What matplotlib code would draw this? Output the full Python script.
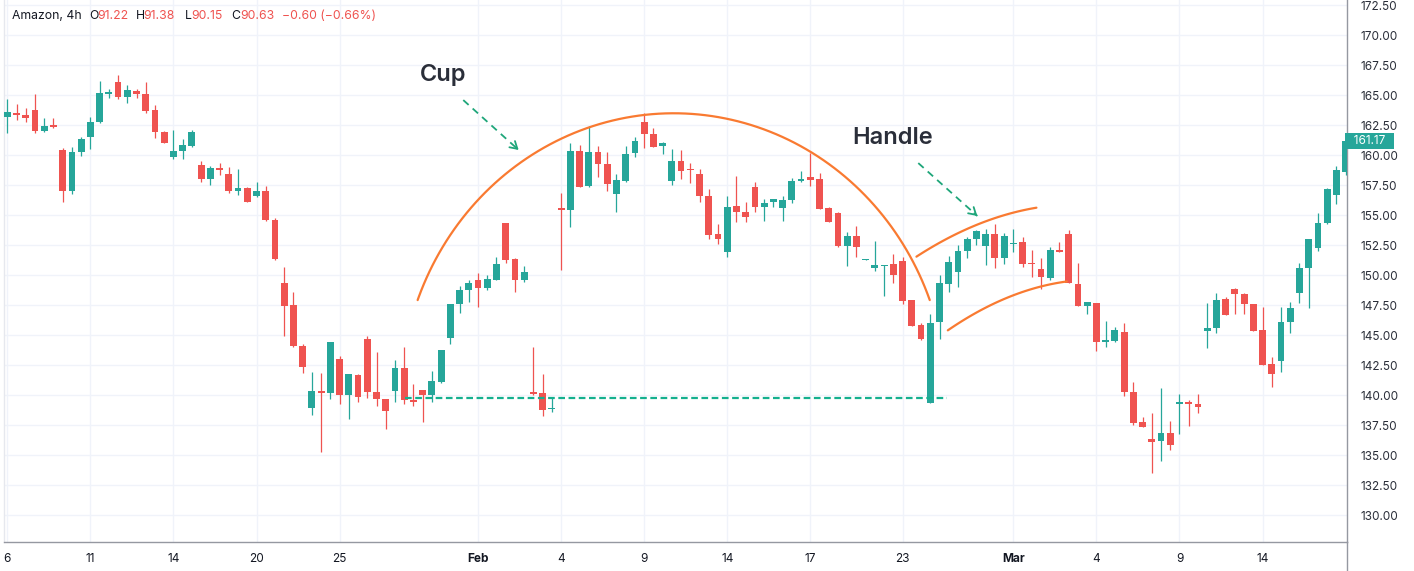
import matplotlib
matplotlib.use('Agg')
import matplotlib.pyplot as plt
import numpy as np
from matplotlib.transforms import blended_transform_factory
from matplotlib.lines import Line2D

# ---------------- data (4h candles) ----------------
opens = [163.2, 163.53, 163.33, 163.75, 162.03, 162.47, 160.42, 157.0, 160.28, 161.53,
         162.72, 165.11, 166.08, 164.83, 165.36, 165.08, 163.75, 161.94, 159.83, 160.33,
         160.78, 159.17, 158.0, 158.94, 158.42, 157.03, 157.22, 156.61, 157.03, 154.58,
         149.36, 147.47, 144.08, 138.94, 140.28, 140.19, 142.97, 140.03, 141.67, 144.64,
         140.25, 139.64, 140.33, 142.22, 139.58, 140.42, 139.97, 141.11, 144.78, 147.58,
         148.75, 149.56, 148.89, 149.58, 154.31, 151.31, 149.61, 140.25, 140.14, 138.8,
         155.61, 155.42, 160.33, 157.42, 160.28, 159.22, 156.72, 157.86, 160.14, 162.78,
         161.72, 160.75, 157.83, 159.5, 158.8, 158.42, 156.58, 153.39, 151.92, 155.75,
         155.28, 157.36, 155.69, 156.06, 155.61, 156.28, 157.86, 158.14, 157.97, 155.56,
         155.14, 152.44, 153.25, 151.25, 150.56, 150.75, 150.89, 151.19, 147.92, 145.83,
         139.36, 146.06, 149.22, 150.22, 152.0, 153.03, 152.42, 153.42, 151.39, 152.56,
         152.72, 150.97, 150.47, 149.78, 152.08, 153.42, 149.25, 147.44, 147.64, 144.39,
         144.53, 145.28, 140.22, 137.72, 136.33, 136.17, 136.86, 139.25, 139.39, 139.22,
         145.36, 145.56, 147.97, 148.81, 148.42, 147.58, 145.42, 142.56, 142.83, 146.11,
         148.53, 150.61, 152.22, 154.31, 156.67, 158.61]
highs = [164.67, 164.25, 163.89, 165.06, 163.06, 163.06, 160.56, 160.64, 161.47, 163.14,
         166.17, 165.5, 166.67, 165.83, 165.47, 166.06, 164.17, 162.03, 162.08, 161.36,
         162.06, 159.47, 159.08, 159.31, 158.97, 158.81, 157.31, 157.78, 157.39, 154.78,
         150.67, 148.58, 144.22, 141.9, 141.86, 144.44, 143.25, 141.75, 141.72, 144.92,
         143.58, 139.64, 142.92, 144.0, 140.94, 140.42, 142.0, 143.75, 147.61, 149.11,
         149.58, 150.17, 150.0, 151.53, 154.31, 151.39, 150.75, 144.03, 141.75, 139.86,
         156.81, 160.97, 160.83, 162.42, 160.75, 160.22, 158.44, 160.75, 161.47, 163.53,
         162.28, 161.11, 160.47, 160.42, 159.36, 158.8, 157.14, 154.22, 156.58, 158.28,
         156.11, 157.78, 156.31, 156.36, 156.58, 158.06, 158.69, 160.14, 158.47, 155.64,
         155.22, 153.56, 154.08, 151.31, 152.83, 150.83, 151.72, 151.53, 147.92, 145.97,
         146.75, 150.0, 151.58, 152.5, 153.19, 153.75, 153.81, 154.22, 153.53, 153.81,
         153.19, 152.08, 151.39, 152.36, 152.78, 153.75, 150.97, 147.72, 147.64, 146.17,
         145.69, 145.97, 141.11, 138.19, 138.47, 140.56, 137.86, 140.06, 139.58, 140.06,
         147.64, 148.47, 148.19, 148.89, 148.47, 147.58, 147.3, 143.14, 147.36, 147.78,
         150.97, 152.97, 155.14, 157.22, 159.08, 161.6]
lows = [161.8, 162.92, 162.78, 161.86, 161.89, 162.22, 156.11, 156.72, 159.92, 160.53,
        162.64, 164.78, 164.67, 164.31, 164.72, 163.47, 161.39, 160.97, 159.69, 159.69,
        160.67, 157.78, 157.5, 158.33, 156.81, 156.67, 156.06, 156.53, 154.5, 151.22,
        144.92, 144.03, 141.86, 138.32, 135.22, 139.64, 139.22, 138.03, 139.42, 139.78,
        139.11, 137.14, 139.42, 139.22, 139.11, 137.72, 139.39, 141.03, 144.22, 146.8,
        147.78, 147.31, 148.75, 149.58, 150.97, 148.58, 149.39, 140.0, 138.25, 138.56,
        150.42, 153.97, 157.36, 157.31, 158.14, 157.03, 155.28, 157.78, 159.86, 160.61,
        160.69, 160.08, 157.5, 158.0, 157.69, 156.06, 153.0, 152.56, 151.47, 154.39,
        154.39, 155.28, 154.53, 155.69, 154.53, 155.97, 157.78, 157.44, 155.5, 154.44,
        152.36, 150.78, 151.53, 151.25, 150.3, 148.28, 149.36, 147.58, 145.78, 144.58,
        139.36, 144.64, 148.61, 148.97, 151.44, 152.5, 150.83, 150.61, 150.89, 151.94,
        150.64, 149.81, 148.81, 149.58, 151.89, 149.36, 147.44, 146.75, 143.69, 144.03,
        144.44, 139.94, 137.5, 137.31, 133.47, 134.53, 135.42, 136.75, 137.42, 138.47,
        143.89, 145.14, 146.67, 146.75, 146.75, 145.33, 142.5, 140.69, 141.94, 145.14,
        147.69, 147.22, 152.03, 154.22, 155.89, 158.3]
closes = [163.55, 163.36, 163.06, 162.03, 162.45, 162.36, 157.0, 160.22, 161.31, 162.78,
          165.14, 165.25, 164.81, 165.42, 165.06, 163.69, 161.92, 161.03, 160.36, 160.83,
          161.94, 158.0, 158.92, 158.78, 157.0, 157.22, 156.11, 157.03, 154.56, 151.31,
          147.44, 144.06, 142.36, 140.3, 140.19, 144.39, 139.97, 141.75, 139.81, 140.22,
          139.64, 138.69, 142.22, 139.58, 139.44, 139.97, 141.17, 143.75, 147.61, 148.75,
          149.36, 148.92, 149.64, 150.92, 151.25, 149.61, 150.25, 140.11, 138.75, 138.9,
          155.44, 160.33, 157.36, 160.28, 159.22, 157.58, 157.94, 160.06, 161.19, 161.72,
          160.69, 161.0, 159.5, 158.67, 158.72, 156.56, 153.36, 153.0, 155.69, 155.28,
          154.81, 155.64, 156.03, 156.31, 156.28, 157.83, 158.0, 157.94, 155.5, 154.44,
          152.42, 153.28, 152.36, 151.31, 150.8, 150.83, 150.0, 147.86, 145.78, 144.64,
          146.03, 149.31, 151.06, 152.03, 153.0, 153.67, 153.39, 151.39, 153.25, 152.69,
          150.92, 150.89, 149.86, 152.08, 151.89, 149.36, 147.44, 147.72, 144.44, 144.58,
          145.42, 140.22, 137.69, 137.31, 136.06, 136.86, 135.83, 139.39, 139.22, 139.03,
          145.56, 147.92, 146.67, 148.42, 147.56, 145.33, 142.5, 141.72, 146.11, 147.22,
          150.61, 152.97, 154.31, 157.14, 158.75, 161.17]

tick_pos = [0, 9, 18, 27, 36, 51, 60, 69, 78, 87, 97, 109, 118, 127, 136]
tick_labels = ['6', '11', '14', '20', '25', 'Feb', '4', '9', '14', '17', '23', 'Mar', '4', '9', '14']
month_labels = ['Feb', 'Mar']
last_price = 161.17
support_level = 139.78

# annotation geometry (candle index, price)
cup_center = (72.2, 139.58)
cup_axes = (29.6, 23.9)
cup_angles = (20.4, 159.6)
handle_upper = [(98.5, 151.53), (103.9, 153.81), (111.5, 155.61)]
handle_lower = [(101.9, 145.42), (106.1, 147.22), (109.7, 148.6), (114.8, 149.44)]
support_span = (43.1, 101.8)
cup_arrow = ((49.4, 164.58), (55.4, 160.42))
handle_arrow = ((98.7, 159.33), (105.1, 154.92))
cup_label = (44.7, 166.67)
handle_label = (91.5, 161.42)

# ---------------- style ----------------
UP = '#26a69a'
DOWN = '#ef5350'
ORANGE = '#f97a31'
ARROW = '#1fa67a'
DASH = '#14b08e'
TXT = '#131722'
FONT = ['Inter', 'DejaVu Sans']
plt.rcParams['font.family'] = FONT

W, H = 1414, 571
fig = plt.figure(figsize=(W / 100, H / 100), dpi=100)
ax = fig.add_axes([4 / W, (H - 542) / H, (1347 - 4) / W, 542 / H])

o = np.array(opens); hi = np.array(highs); lo = np.array(lows); c = np.array(closes)
x = np.arange(len(o))
up = c >= o
cols = np.where(up, UP, DOWN)

ax.vlines(x, lo, hi, colors=cols, lw=0.9, zorder=3)
body_bottom = np.minimum(o, c)
body_h = np.maximum(np.abs(c - o), 0.12)
ax.bar(x, body_h, bottom=body_bottom, width=0.74, color=cols, edgecolor='none', zorder=4)

ax.set_xlim(-0.36, 145.15)
ax.set_ylim(127.75, 172.92)

yt = np.arange(130, 172.51, 2.5)
ax.yaxis.tick_right()
ax.set_yticks(yt)
ax.set_yticklabels([f'{v:.2f}' for v in yt])
ax.tick_params(axis='y', length=0, pad=10, labelsize=8.5, labelcolor='#2a2e39')
ax.set_xticks(tick_pos)
ax.set_xticklabels(tick_labels)
ax.tick_params(axis='x', length=0, pad=8, labelsize=8.5, labelcolor=TXT)
for lab in ax.get_xticklabels():
    if lab.get_text() in month_labels:
        lab.set_fontweight('bold')

ax.grid(True, color='#f0f3fa', lw=1)
ax.set_axisbelow(True)
ax.spines['top'].set_visible(False)
ax.spines['left'].set_color('#e6e8ee')
ax.spines['right'].set_color('#9598a1')
ax.spines['bottom'].set_color('#9598a1')
for s in ['right', 'bottom', 'left']:
    ax.spines[s].set_linewidth(1)
fig.add_artist(Line2D([1347 / W, 1347 / W], [0, (H - 542) / H], color='#9598a1', lw=1))

# support line
ax.plot(support_span, [support_level, support_level], color=DASH, lw=1.6,
        ls=(0, (3, 1.6)), zorder=5)

# cup arc
th = np.radians(np.linspace(cup_angles[0], cup_angles[1], 200))
ax.plot(cup_center[0] + cup_axes[0] * np.cos(th), cup_center[1] + cup_axes[1] * np.sin(th),
        color=ORANGE, lw=1.6, zorder=6, solid_capstyle='round')

# handle arcs
for pts in (handle_upper, handle_lower):
    px = [p[0] for p in pts]; py = [p[1] for p in pts]
    coef = np.polyfit(px, py, 2)
    xs = np.linspace(px[0], px[-1], 100)
    ax.plot(xs, np.polyval(coef, xs), color=ORANGE, lw=1.6, zorder=6, solid_capstyle='round')

# dashed arrows
for (s, e) in (cup_arrow, handle_arrow):
    ax.plot([s[0], e[0]], [s[1], e[1]], color=ARROW, lw=1.3, ls=(0, (4, 3)), zorder=6)
    dx = e[0] - s[0]; dy = e[1] - s[1]
    ax.annotate('', xy=e, xytext=(e[0] - dx * 0.05, e[1] - dy * 0.05),
                arrowprops=dict(arrowstyle='->,head_length=0.5,head_width=0.3', color=ARROW,
                                lw=1.3, shrinkA=0, shrinkB=0), zorder=6)

ax.text(cup_label[0], cup_label[1], 'Cup', fontsize=17, fontweight='semibold', color='#2a2e39',
        ha='left', va='center', zorder=7)
ax.text(handle_label[0], handle_label[1], 'Handle', fontsize=17, fontweight='semibold',
        color='#2a2e39', ha='left', va='center', zorder=7)

# last price tag
tr = blended_transform_factory(ax.transAxes, ax.transData)
ax.text(1.0, last_price, f'  {last_price:.2f}  ', transform=tr, ha='left', va='center',
        fontsize=8.5, color='white', clip_on=False, zorder=10,
        bbox=dict(boxstyle='square,pad=0.2', fc=UP, ec='none'))

# header legend
hy = (H - 16) / H
pieces = [(12, 'Amazon, 4h', TXT), (89, 'O', TXT), (97, '91.22', DOWN), (136, 'H', TXT),
          (143, '91.38', DOWN), (185, 'L', TXT), (191, '90.15', DOWN), (231, 'C', TXT),
          (240, '90.63', DOWN), (282, '\u22120.60 (\u22120.66%)', DOWN)]
for px_, t, col in pieces:
    fig.text(px_ / W, hy, t, fontsize=8.8, color=col, ha='left', va='center')

fig.savefig('out.png', dpi=100, facecolor='white')
